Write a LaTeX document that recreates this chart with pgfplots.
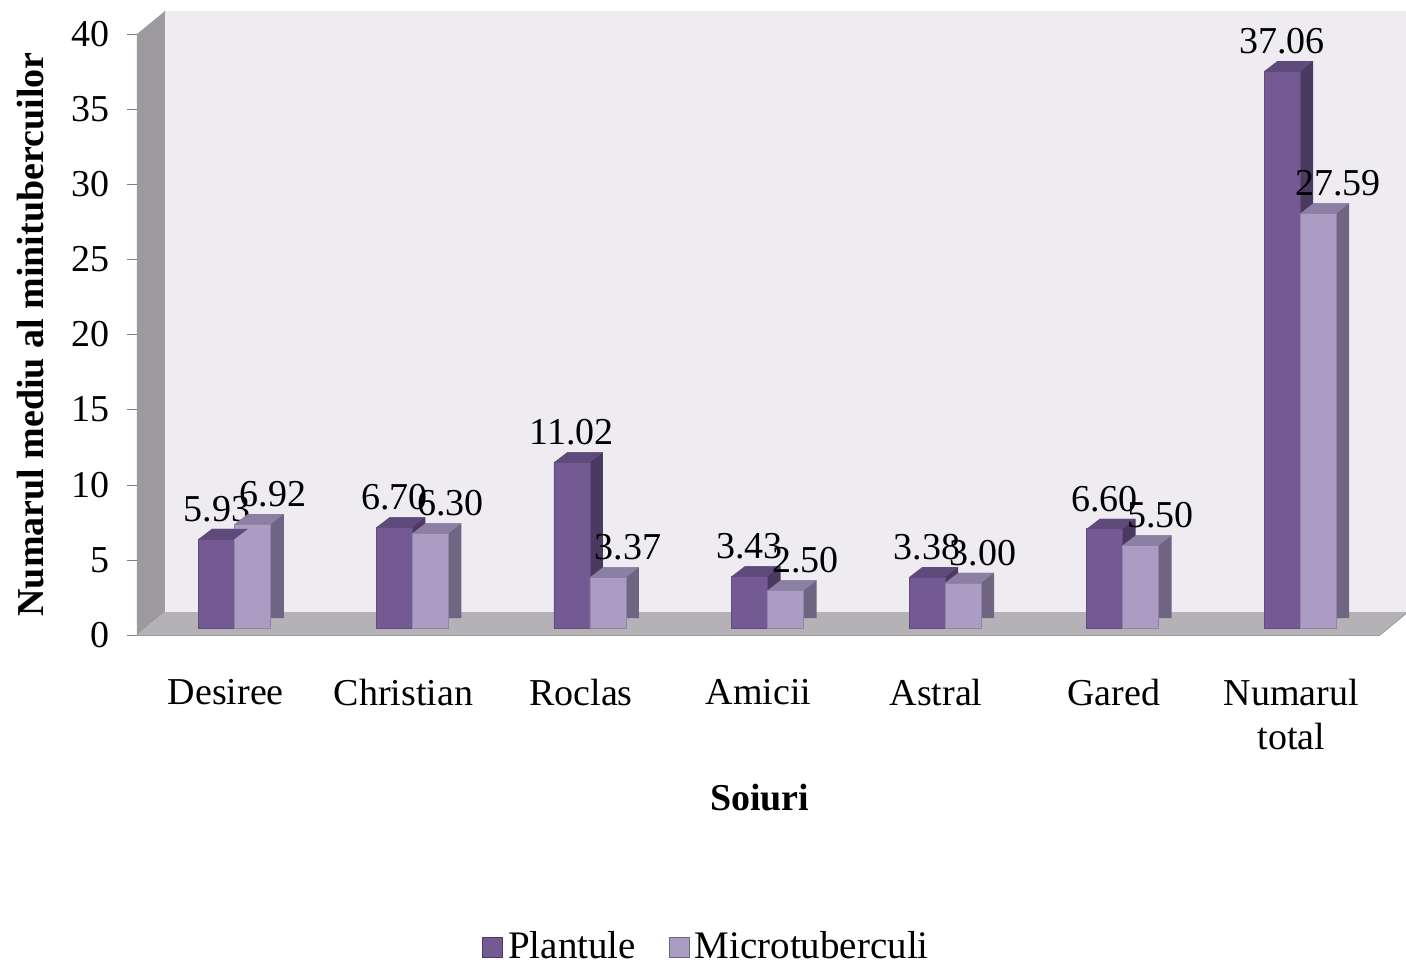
\documentclass[border=0pt]{standalone}
\usepackage{pgfplots}
\pgfplotsset{compat=1.18}
\usepackage{pgfplotstable}
\usepackage{fontspec}
\setmainfont{Liberation Serif}
\definecolor{plantF}{HTML}{735A93}
\definecolor{plantT}{HTML}{5E4A7B}
\definecolor{plantS}{HTML}{4A3A60}
\definecolor{microF}{HTML}{AA9CC2}
\definecolor{microT}{HTML}{8C7FA4}
\definecolor{microS}{HTML}{6E6582}
\definecolor{wallB}{HTML}{EEECF1}
\definecolor{wallL}{HTML}{9C9A9F}
\definecolor{floorC}{HTML}{B4B2B7}
\pgfdeclareplotmark{topP}{\pgfpathmoveto{\pgfpoint{-18pt}{0pt}}\pgfpathlineto{\pgfpoint{0pt}{0pt}}\pgfpathlineto{\pgfpoint{6.5pt}{5pt}}\pgfpathlineto{\pgfpoint{-11.5pt}{5pt}}\pgfpathclose\pgfusepathqfill}
\pgfdeclareplotmark{topM}{\pgfpathmoveto{\pgfpoint{0pt}{0pt}}\pgfpathlineto{\pgfpoint{18pt}{0pt}}\pgfpathlineto{\pgfpoint{24.5pt}{5pt}}\pgfpathlineto{\pgfpoint{6.5pt}{5pt}}\pgfpathclose\pgfusepathqfill}
\pgfplotstableread{
x P M
0 5.93 6.92
1 6.70 6.30
2 11.02 3.37
3 3.43 2.50
4 3.38 3.00
5 6.60 5.50
6 37.06 27.59
}\data
\newcommand{\fs}{\fontsize{19}{22}\selectfont}
\begin{document}
\begin{tikzpicture}
\useasboundingbox (-68.5pt,-167.5pt) rectangle (634.5pt,317.5pt);
\begin{axis}[
  at={(0,0)}, anchor=south west,
  width=621.5pt, height=300.5pt, scale only axis,
  xmin=-0.5, xmax=6.5, ymin=0, ymax=40,
  clip=false,
  axis lines=left, axis line style={-, draw=gray!80},
  xtick={0,...,6},
  xticklabels={Desiree,Christian,Roclas,Amicii,Astral,Gared,{Numarul\\total}},
  xticklabel style={align=center, yshift=-13.5pt, font=\fs},
  x tick style={draw=none},
  ytick={0,5,...,40},
  tick align=outside, major tick length=5pt,
  y tick style={gray},
  yticklabel style={font=\fs, xshift=-5pt},
  /pgf/number format/assume math mode=true,
  xlabel={\textbf{Soiuri}},
  ylabel={\textbf{Numarul mediu al minitubercuilor}},
  xlabel style={at={(axis description cs:0.501,-0.27)}, anchor=center, font=\fs},
  ylabel style={at={(axis description cs:-0.086,0.5)}, anchor=center, font=\fs},
  legend image code/.code={\draw[#1] (0pt,-5pt) rectangle (10pt,5pt);},
  legend style={at={(axis description cs:0.459,-0.519)}, anchor=center, draw=none,
    fill=none, font=\fontsize{19.5}{22}\selectfont, legend columns=2,
    /tikz/every odd column/.append style={column sep=0.5pt},
    /tikz/every even column/.append style={column sep=14.5pt}},
  every node near coord/.append style={font=\fs, anchor=south, yshift=5pt},
  nodes near coords={\pgfmathprintnumber[fixed,fixed zerofill,precision=2,assume math mode=true]{\pgfplotspointmeta}},
]
% walls and floor
\fill[wallB] ([shift={(14pt,11.5pt)}]axis cs:-0.5,0) rectangle ([shift={(14pt,11.5pt)}]axis cs:6.5,40);
\fill[wallL] (axis cs:-0.5,0) -- (axis cs:-0.5,40) -- ([shift={(14pt,11.5pt)}]axis cs:-0.5,40) -- ([shift={(14pt,11.5pt)}]axis cs:-0.5,0) -- cycle;
\fill[floorC] (axis cs:-0.5,0) -- (axis cs:6.5,0) -- ([shift={(14pt,11.5pt)}]axis cs:6.5,0) -- ([shift={(14pt,11.5pt)}]axis cs:-0.5,0) -- cycle;
\draw[gray!80] (axis cs:6.5,0) -- ([shift={(14pt,11.5pt)}]axis cs:6.5,0);

\addlegendimage{fill=plantF, draw=plantS}
\addlegendentry{Plantule}
\addlegendimage{fill=microF, draw=microS}
\addlegendentry{Microtuberculi}

% Plantule
\addplot[ybar, bar width=18pt, bar shift=-9pt, fill=plantS, draw=none, xshift=11pt, yshift=8.5pt, forget plot, nodes near coords={}] table[x=x,y=P]{\data};
\addplot[only marks, mark=topP, color=plantT, xshift=4.5pt, yshift=3.5pt, forget plot, nodes near coords={}] table[x=x,y=P]{\data};
\addplot[ybar, bar width=18pt, bar shift=-9pt, fill=plantF, draw=plantF!85!black, xshift=4.5pt, yshift=3.5pt, forget plot,
  every node near coord/.append style={xshift=-9pt}] table[x=x,y=P]{\data};
% Microtuberculi
\addplot[ybar, bar width=18pt, bar shift=9pt, fill=microS, draw=none, xshift=11pt, yshift=8.5pt, forget plot, nodes near coords={}] table[x=x,y=M]{\data};
\addplot[only marks, mark=topM, color=microT, xshift=4.5pt, yshift=3.5pt, forget plot, nodes near coords={}] table[x=x,y=M]{\data};
\addplot[ybar, bar width=18pt, bar shift=9pt, fill=microF, draw=microF!85!black, xshift=4.5pt, yshift=3.5pt, forget plot,
  every node near coord/.append style={xshift=19pt}] table[x=x,y=M]{\data};
\end{axis}
\end{tikzpicture}
\end{document}
